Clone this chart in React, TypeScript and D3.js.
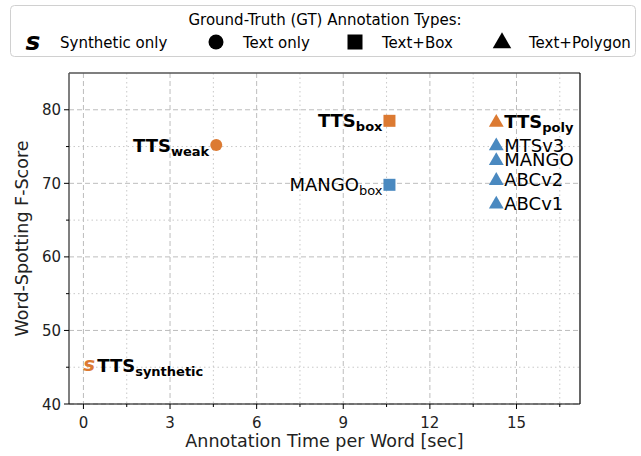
import * as React from "react";
import * as d3 from "d3";

// points: label, subscript, x (sec), y (F-score), marker, ours?, label side
const names = ["TTS", "TTS", "TTS", "MANGO", "TTS", "MTSv3", "MANGO", "ABCv2", "ABCv1"];
const subs = ["synthetic", "weak", "box", "box", "poly", "", "", "", ""];
const times = [0.2, 4.6, 10.6, 10.6, 14.3, 14.3, 14.3, 14.3, 14.3];
const scores = [45.3, 75.2, 78.5, 69.8, 78.4, 75.2, 73.2, 70.5, 67.3];
const kinds = ["s", "circle", "square", "square", "triangle", "triangle", "triangle", "triangle", "triangle"];
const ours = [true, true, true, false, true, false, false, false, false];
const labelSide = ["right", "left", "left", "left", "right", "right", "right", "right", "right"];

const xTicks = [0, 3, 6, 9, 12, 15];
const yTicks = [40, 50, 60, 70, 80];

const legendLabels = ["Synthetic only", "Text only", "Text+Box", "Text+Polygon"];
const legendKinds = ["s", "circle", "square", "triangle"];

const ORANGE = "#dc7a32";
const BLUE = "#4a89c0";
const FONT = "DejaVu Sans, sans-serif";

const Marker = ({ kind, x, y, color, k = 1 }: { kind: string; x: number; y: number; color: string; k?: number }) => {
  if (kind === "circle") return <circle cx={x} cy={y} r={6 * k} fill={color} />;
  if (kind === "square") return <rect x={x - 6 * k} y={y - 6 * k} width={12 * k} height={12 * k} fill={color} />;
  if (kind === "triangle") {
    const tri = d3.symbol().type(d3.symbolTriangle).size(95 * k * k)();
    return <path d={tri as string} transform={`translate(${x},${y + 1})`} fill={color} />;
  }
  return (
    <text x={x} y={y + 6 * k} textAnchor="middle" fontFamily={FONT} fontWeight="bold" fontStyle="italic" fontSize={20 * k} fill={color}>
      s
    </text>
  );
};

export default function App() {
  const width = 641;
  const height = 456;
  const left = 69, right = 580, top = 73, bottom = 404;

  const x = d3.scaleLinear().domain([-0.5, 17.2]).range([left, right]);
  const y = d3.scaleLinear().domain([40, 85]).range([bottom, top]);

  const xMinor = d3.range(1.5, 17.2, 3);
  const yMinor = d3.range(45, 85, 10);

  return (
    <svg width={width} height={height} style={{ position: "absolute", left: 0, top: 0 }} fontFamily={FONT}>
      <rect width={width} height={height} fill="white" />

      {/* grid */}
      {xMinor.map((t) => (
        <line key={"xm" + t} x1={x(t)} x2={x(t)} y1={top} y2={bottom} stroke="#c8c8c8" strokeDasharray="1.5,3" />
      ))}
      {yMinor.map((t) => (
        <line key={"ym" + t} y1={y(t)} y2={y(t)} x1={left} x2={right} stroke="#c8c8c8" strokeDasharray="1.5,3" />
      ))}
      {xTicks.map((t) => (
        <line key={"xg" + t} x1={x(t)} x2={x(t)} y1={top} y2={bottom} stroke="#bdbdbd" strokeDasharray="5,3" />
      ))}
      {yTicks.map((t) => (
        <line key={"yg" + t} y1={y(t)} y2={y(t)} x1={left} x2={right} stroke="#bdbdbd" strokeDasharray="5,3" />
      ))}

      {/* spines */}
      <line x1={left} x2={right} y1={top} y2={top} stroke="#555" strokeWidth={1.5} />
      <line x1={left} x2={left} y1={top} y2={bottom} stroke="#555" strokeWidth={1.5} />
      <line x1={right} x2={right} y1={top} y2={bottom} stroke="#000" strokeWidth={1.2} />
      <line x1={left} x2={right} y1={bottom} y2={bottom} stroke="#000" strokeWidth={1.2} />

      {/* ticks */}
      {xTicks.map((t) => (
        <g key={"xt" + t}>
          <line x1={x(t)} x2={x(t)} y1={bottom} y2={bottom + 5} stroke="#000" />
          <text x={x(t)} y={bottom + 24} textAnchor="middle" fontSize={15} fill="#222">{t}</text>
        </g>
      ))}
      {xMinor.map((t) => (
        <line key={"xmt" + t} x1={x(t)} x2={x(t)} y1={bottom} y2={bottom + 3} stroke="#000" />
      ))}
      {yTicks.map((t) => (
        <g key={"yt" + t}>
          <line x1={left - 5} x2={left} y1={y(t)} y2={y(t)} stroke="#000" />
          <text x={left - 8} y={y(t) + 5.5} textAnchor="end" fontSize={15} fill="#222">{t}</text>
        </g>
      ))}
      {yMinor.map((t) => (
        <line key={"ymt" + t} x1={left - 3} x2={left} y1={y(t)} y2={y(t)} stroke="#000" />
      ))}

      <text x={(left + right) / 2} y={447} textAnchor="middle" fontSize={17.5} fill="#222">
        Annotation Time per Word [sec]
      </text>
      <text transform={`translate(28,${(top + bottom) / 2}) rotate(-90)`} textAnchor="middle" fontSize={17.5} fill="#222">
        Word-Spotting F-Score
      </text>

      {/* points */}
      {names.map((n, i) => {
        const px = x(times[i]);
        const py = y(scores[i]);
        const color = ours[i] ? ORANGE : BLUE;
        const isLeft = labelSide[i] === "left";
        return (
          <g key={"p" + i}>
            <Marker kind={kinds[i]} x={px} y={py} color={color} />
            <text
              x={isLeft ? px - 7 : px + 8}
              y={py + 6.5}
              textAnchor={isLeft ? "end" : "start"}
              fontSize={18}
              fontWeight={ours[i] ? "bold" : "normal"}
              fill="#000"
            >
              {n}
              {subs[i] && (
                <tspan dy={4} fontSize={13}>{subs[i]}</tspan>
              )}
            </text>
          </g>
        );
      })}

      {/* legend */}
      <rect x={10.5} y={5.5} width={625} height={51} rx={4} fill="white" fillOpacity={0.8} stroke="#d0d0d0" />
      <text x={325} y={25} textAnchor="middle" fontSize={15} fill="#000">
        Ground-Truth (GT) Annotation Types:
      </text>
      {legendLabels.map((l, i) => {
        const mx = [33, 216, 355, 502][i];
        return (
          <g key={"l" + i}>
            <Marker kind={legendKinds[i]} x={mx} y={42} color="#000" k={1.25} />
            <text x={mx + 27} y={47.5} fontSize={15} fill="#000">{l}</text>
          </g>
        );
      })}
    </svg>
  );
}
